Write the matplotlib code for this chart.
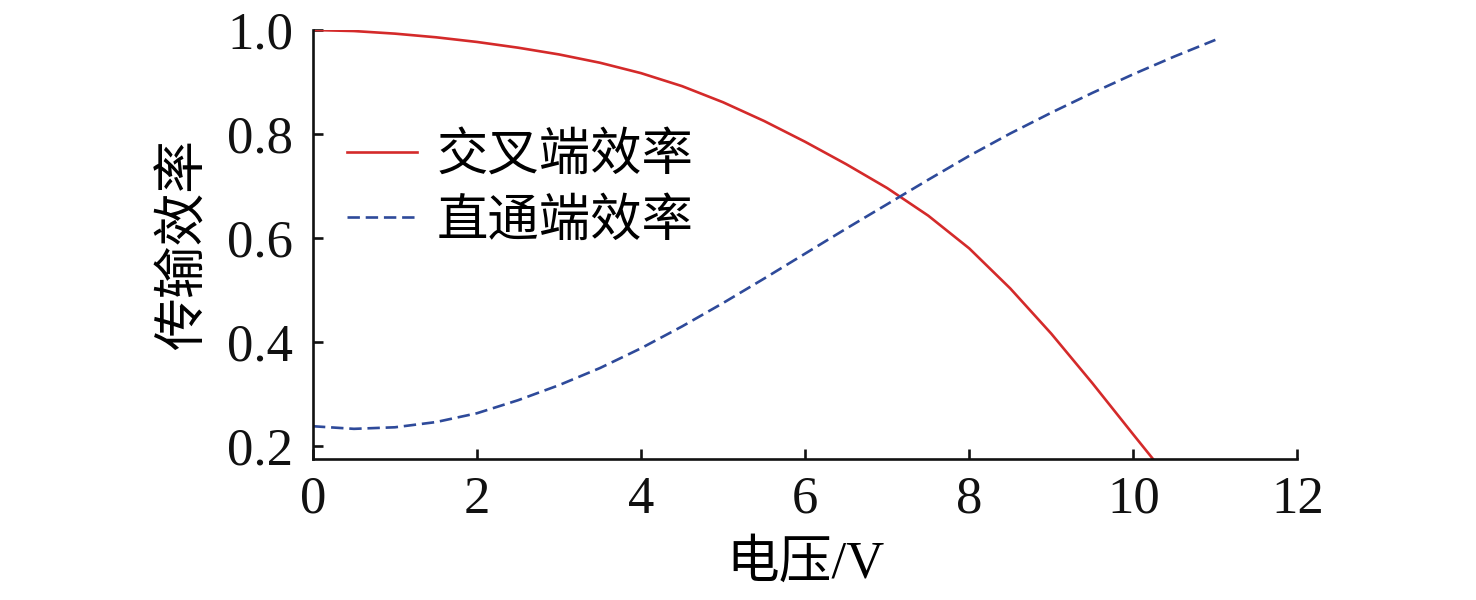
import matplotlib
matplotlib.use("Agg")
import matplotlib.pyplot as plt

plt.rcParams['font.family'] = ['Liberation Serif', 'Noto Sans CJK SC']

# 交叉端效率 (red, solid)
v_cross = [0, 0.5, 1, 1.5, 2, 2.5, 3, 3.5, 4, 4.5, 5, 5.5, 6, 6.5, 7,
           7.5, 8, 8.5, 9, 9.5, 10, 10.25]
eff_cross = [1.000, 0.998, 0.993, 0.986, 0.977, 0.966, 0.953, 0.937, 0.917,
             0.892, 0.861, 0.825, 0.785, 0.742, 0.696, 0.643, 0.580, 0.503,
             0.416, 0.321, 0.222, 0.173]

# 直通端效率 (blue, dashed)
v_thru = [0, 0.5, 1, 1.5, 2, 2.5, 3, 3.5, 4, 4.5, 5, 5.5, 6, 6.5, 7, 7.5,
          8, 8.5, 9, 9.5, 10, 10.5, 11]
eff_thru = [0.238, 0.233, 0.236, 0.246, 0.263, 0.288, 0.317, 0.350, 0.388,
            0.430, 0.475, 0.522, 0.570, 0.618, 0.665, 0.712, 0.758, 0.801,
            0.841, 0.879, 0.915, 0.949, 0.981]

xticks = [0, 2, 4, 6, 8, 10, 12]
yticks = [0.2, 0.4, 0.6, 0.8, 1.0]

fig = plt.figure(figsize=(14.76, 6), dpi=100)
ax = fig.add_axes([0.212, 0.235, 0.667, 0.715])

ax.plot(v_cross, eff_cross, color='#d42a2a', lw=1.9, label='交叉端效率')
ax.plot(v_thru, eff_thru, color='#2e4a9a', lw=1.9, dashes=(4.7, 2.2),
        label='直通端效率')

ax.set_xlim(0, 12)
ax.set_ylim(0.175, 1.0)
ax.set_xticks(xticks)
ax.set_yticks(yticks)
ax.set_yticklabels(['%.1f' % t for t in yticks])
ax.spines['top'].set_visible(False)
ax.spines['right'].set_visible(False)
for s in ('left', 'bottom'):
    ax.spines[s].set_linewidth(1.9)
    ax.spines[s].set_color('#111111')
ax.tick_params(direction='in', length=7, width=1.9, labelsize=38,
               colors='#111111')
ax.tick_params(axis='x', pad=12)
ax.tick_params(axis='y', pad=14)

ax.set_xlabel('电压/V', fontsize=38, labelpad=12)
ax.set_ylabel('传输效率', fontsize=38, labelpad=13)

ax.legend(loc='center left', bbox_to_anchor=(0.035, 0.628), frameon=False,
          fontsize=37, handlelength=1.36, handletextpad=0.38,
          labelspacing=0.35, borderpad=0, borderaxespad=0)

fig.savefig('out.png', dpi=100)
